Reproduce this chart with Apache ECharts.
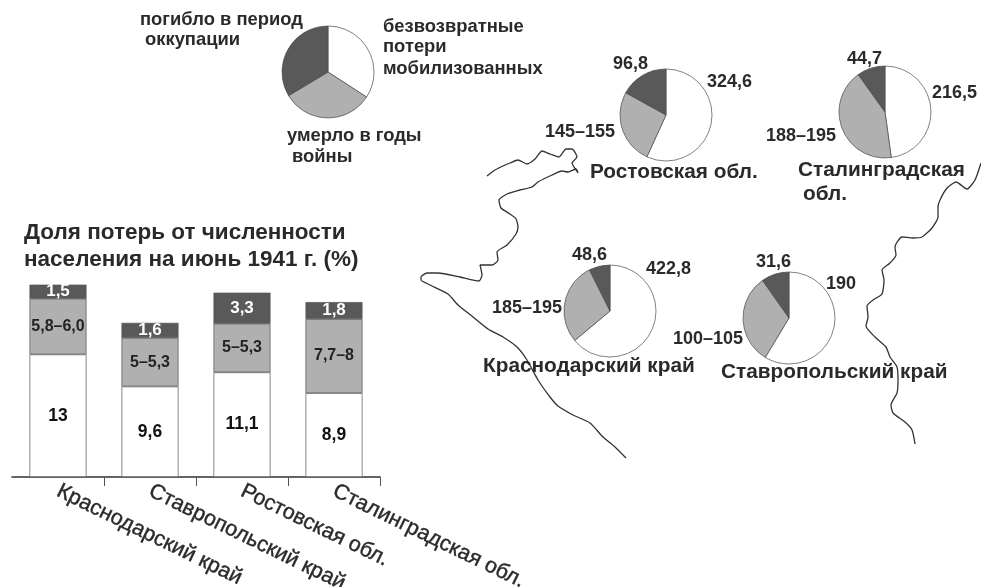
<!DOCTYPE html>
<html><head><meta charset="utf-8">
<style>html,body{margin:0;padding:0;background:#fff}#c{width:981px;height:587px}</style>
<script src="https://cdn.jsdelivr.net/npm/echarts@6/dist/echarts.min.js"></script>
</head><body><div id="c"></div>
<script>
// Bar chart data
const barCategories = ['Краснодарский край','Ставропольский край','Ростовская обл.','Сталинградская обл.'];
const mobilized = [13, 9.6, 11.1, 8.9];
const diedWar = [5.9, 5.15, 5.15, 7.85];
const occupation = [1.5, 1.6, 3.3, 1.8];
const mobilizedLabels = ['13','9,6','11,1','8,9'];
const diedWarLabels = ['5,8–6,0','5–5,3','5–5,3','7,7–8'];
const occupationLabels = ['1,5','1,6','3,3','1,8'];
// Pie data: [mobilized, died in war years, occupation]
const legendPie = [123, 116, 121];
const rostovPie = [324.6, 150, 96.8];
const stalingradPie = [216.5, 191.5, 44.7];
const krasnodarPie = [422.8, 190, 48.6];
const stavropolPie = [190, 102.5, 31.6];
// Map outlines, page-pixel scale axes
const westCoastX = [487,495,503,510,518,527,535,542,550,559,566,572,577,572,576,578,576,568,562,552,538,532,520,507,499,501,510,516,518,516,507,497,498,492,480,482,479,460,438,427,421,421,430,448,458,473,488,503,517,527,538,550,558,573,590,603,615,626];
const westCoastY = [176,170,166,163,160,164,159,151,154,157,149,149,157,163,170,173,169,172,171,175,182,187,190,194,200,208,214,219,227,234,245,252,260,265,265,275,281,277,273,273,277,280,285,294,305,317,329,337,347,360,380,397,406,415,423,437,447,458];
const eastCoastX = [981,975,967,956,947,940,938,938,932,922,913,902,895,896,890,882,884,882,873,867,868,866,875,886,890,897,898,897,891,893,905,912,915];
const eastCoastY = [163,180,189,182,188,200,207,217,228,237,238,237,247,255,263,270,280,294,300,306,317,326,337,347,357,367,380,393,405,413,422,430,444];
const c = '#2a2a2a';
const fills = ['#ffffff','#b0b0b0','#595959'];
const mk = (center, values) => ({
  type:'pie', radius:46, center, startAngle:90, clockwise:true, silent:true, animation:false, z:3,
  label:{show:false}, labelLine:{show:false}, emphasis:{disabled:true},
  itemStyle:{borderColor:'#4a4a4a', borderWidth:0.7},
  data: values.map((v,i)=>({value:v, itemStyle:{color:fills[i]}}))
});
const bar = (name, values, labels, color, textColor, size) => ({
  type:'bar', name, stack:'t', xAxisIndex:0, yAxisIndex:0, data:values, barWidth:57, animation:false, silent:true,
  itemStyle:{color, borderColor:'#555', borderWidth:0.7},
  label:{show:true, position:'inside', color:textColor, fontFamily:'Liberation Sans', fontWeight:'bold', fontSize:size,
         formatter:p=>labels[p.dataIndex]}
});
const line = (xs, ys) => ({
  type:'line', xAxisIndex:1, yAxisIndex:1, data:xs.map((x,i)=>[x,ys[i]]), symbol:'none', smooth:0.2, silent:true, animation:false, z:1,
  lineStyle:{color:'#333', width:1.3}, clip:false
});
const t = (text,x,y,size,align) => ({type:'text', silent:true, z:10, x, y, style:{text, fontFamily:'Liberation Sans', fontWeight:'bold', fontSize:size, fill:c, textAlign:align||'left', textVerticalAlign:'middle'}});
const ls = 18.4, vs = 18, ns = 20.8;
const texts = [
 t('Доля потерь от численности',24,233,22.5), t('населения на июнь 1941 г. (%)',24,260,22.5),
 t('погибло в период',140,20,ls), t('оккупации',145,40,ls),
 t('безвозвратные',383,27,ls), t('потери',383,47,ls), t('мобилизованных',383,69,ls),
 t('умерло в годы',287,136,ls), t('войны',292,157,ls),
 t('324,6',707,82,vs), t('96,8',613,64,vs), t('145–155',545,132,vs), t('Ростовская обл.',590,172,ns),
 t('44,7',847,59,vs), t('216,5',932,93,vs), t('188–195',766,136,vs), t('Сталинградская',798,170,ns), t('обл.',803,194,ns),
 t('48,6',572,255,vs), t('422,8',646,269,vs), t('185–195',492,308,vs), t('Краснодарский край',483,366,ns),
 t('31,6',756,262,vs), t('190',826,284,vs), t('100–105',673,339,vs), t('Ставропольский край',721,372,ns)
];
const chart = echarts.init(document.getElementById('c'), null, {renderer:'canvas'});
chart.setOption({
  backgroundColor:'#fff', animation:false,
  grid:[{left:12, top:279, width:368, height:198, outerBoundsMode:'none', containLabel:false},{left:0, top:0, width:981, height:587, outerBoundsMode:'none'}],
  xAxis:[
    {type:'category', gridIndex:0, data:barCategories,
     axisLine:{show:true, lineStyle:{color:'#333', width:1.5}},
     axisTick:{show:true, length:9, interval:(i)=>i>0, lineStyle:{color:'#555', width:1}},
     axisLabel:{rotate:-26, interval:0, margin:13, color:c, fontFamily:'Liberation Sans', fontSize:21.6, textBorderColor:c, textBorderWidth:0.4}},
    {type:'value', gridIndex:1, min:0, max:981, show:false}
  ],
  yAxis:[
    {type:'value', gridIndex:0, min:0, max:21, show:false},
    {type:'value', gridIndex:1, min:0, max:587, inverse:true, show:false}
  ],
  series:[
    line(westCoastX, westCoastY), line(eastCoastX, eastCoastY),
    bar('безвозвратные потери мобилизованных', mobilized, mobilizedLabels, '#ffffff', '#111', 17.5),
    bar('умерло в годы войны', diedWar, diedWarLabels, '#b0b0b0', '#222', 16),
    bar('погибло в период оккупации', occupation, occupationLabels, '#595959', '#fff', 17),
    mk([328,72], legendPie), mk([666,115], rostovPie), mk([885,112], stalingradPie),
    mk([610,311], krasnodarPie), mk([789,318], stavropolPie)
  ],
  graphic:texts
});
</script></body></html>
